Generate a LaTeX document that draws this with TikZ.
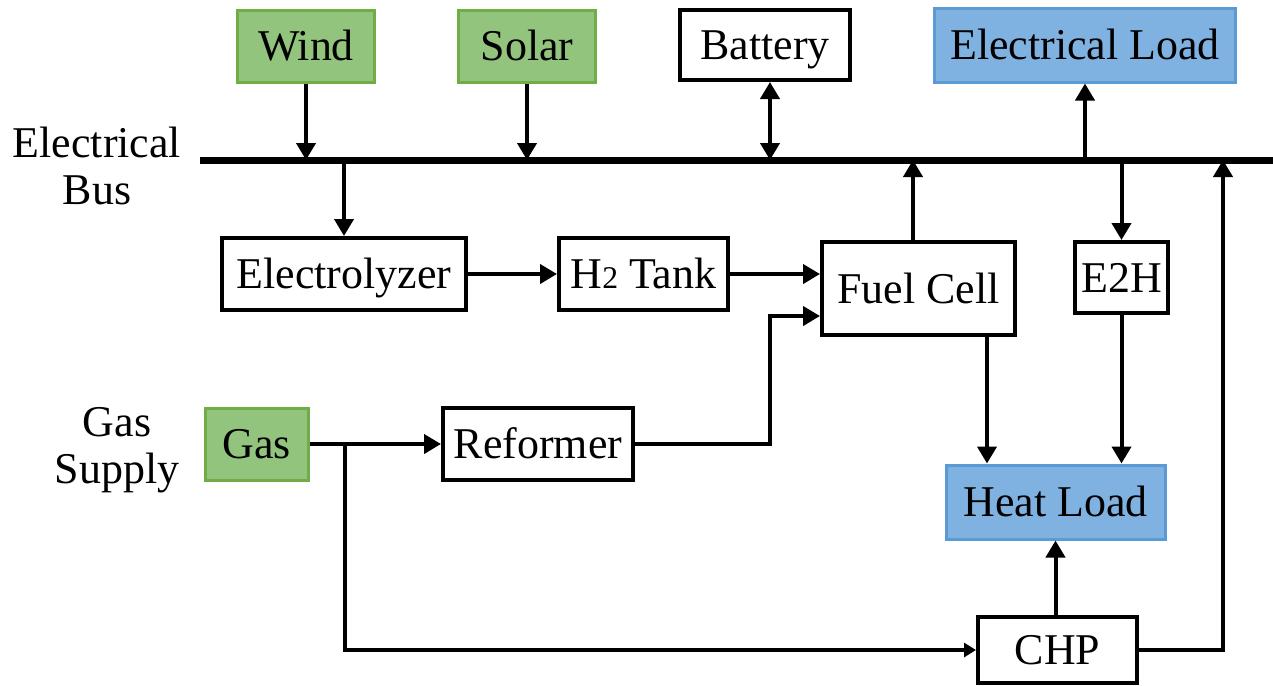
\documentclass[tikz,border=0pt]{standalone}
\usepackage{fontspec}
\setmainfont{Liberation Serif}
\usetikzlibrary{arrows.meta, positioning}
\definecolor{srcgreen}{HTML}{93C47D}
\definecolor{srcedge}{HTML}{70AD47}
\definecolor{loadblue}{HTML}{7FB2E0}
\definecolor{loadedge}{HTML}{5B9BD5}
\tikzset{
    unit/.style={rectangle, draw, line width=0.08cm, fill=white, minimum height=1.44cm, inner sep=0pt,
        text height=0.58cm, text depth=0pt, align=center, font=\fontsize{25}{30}\selectfont},
    source/.style={unit, fill=srcgreen, draw=srcedge, line width=0.06cm},
    demand/.style={unit, fill=loadblue, draw=loadedge, line width=0.06cm},
    arr/.style={-{Triangle[length=0.34cm, width=0.38cm]}, line width=0.08cm},
    arrs/.style={-{Triangle[length=0.24cm, width=0.28cm]}, line width=0.08cm},
    tag/.style={align=center, font=\fontsize{25}{27}\selectfont},
}

\begin{document}
\begin{tikzpicture}
\useasboundingbox (0,0) rectangle (25.46,-13.7);

% ── Electrical bus ──
\coordinate (busL) at (4.0,-3.2);
\coordinate (busR) at (25.46,-3.2);
\draw[line width=0.14cm] (busL) -- (busR);
\node[tag] (buslbl) at (1.94,-3.32) {Electrical\\Bus};

% ── Top row ──
\node[source, minimum width=2.74cm] (wind) at (6.12,-0.92) {Wind};
\node[source, minimum width=2.74cm] (solar) at (10.54,-0.92) {Solar};
\node[unit, minimum width=3.4cm, minimum height=1.4cm] (batt) at (15.3,-0.9) {Battery};
\node[demand, minimum width=6.02cm, minimum height=1.48cm] (eload) at (21.7,-0.9) {Electrical Load};

\draw[arr] (wind.south) -- (wind.south |- busL);
\draw[arr] (solar.south) -- (solar.south |- busL);
\draw[{Triangle[length=0.34cm, width=0.38cm]}-{Triangle[length=0.34cm, width=0.38cm]}, line width=0.08cm]
    ([xshift=0.1cm]batt.south) -- ([xshift=0.1cm]batt.south |- busL);
\draw[arr] (eload.south |- busR) -- (eload.south);

% ── Hydrogen chain ──
\node[unit, minimum width=4.88cm] (elec) at (6.88,-5.48) {Electrolyzer};
\node[unit, minimum width=3.38cm] (tank) at (12.87,-5.48) {H{\fontsize{18}{20}\selectfont 2} Tank};
\node[unit, minimum width=3.86cm, minimum height=1.86cm] (fc) at (18.37,-5.77) {Fuel Cell};
\node[unit, minimum width=1.86cm, minimum height=1.42cm] (e2h) at (22.43,-5.55) {E2H};

\draw[arr] (elec.north |- busL) -- (elec.north);
\draw[arr] (elec.east) -- (tank.west);
\draw[arr] (tank.east) -- (tank.east -| fc.west);
\draw[arr] ([xshift=-0.11cm]fc.north) -- ([xshift=-0.11cm]fc.north |- busL);
\draw[arr] (e2h.north |- busR) -- (e2h.north);

% ── Gas supply ──
\node[tag] (gaslbl) at (2.34,-9.0) {Gas\\Supply};
\node[source, minimum width=2.06cm] (gas) at (5.13,-8.88) {Gas};
\node[unit, minimum width=3.8cm] (ref) at (10.76,-8.88) {Reformer};
\coordinate (split) at (6.9,-8.88);

\draw[arr] (gas.east) -- (ref.west);
\draw[arr] (ref.east) -- ++(2.7,0) |- ([yshift=-0.55cm]fc.west);

% ── Heat side ──
\node[demand, minimum width=4.38cm, minimum height=1.48cm] (heat) at (21.11,-10.04) {Heat Load};
\node[unit, minimum width=3.18cm, minimum height=1.32cm] (chp) at (21.15,-13.0) {CHP};
\coordinate (chpbus) at (24.46,-3.2);

\draw[arr] ([xshift=1.37cm]fc.south) -- ([xshift=1.37cm]fc.south |- heat.north);
\draw[arr] (e2h.south) -- (e2h.south |- heat.north);
\draw[arr] (chp.north -| heat.south) -- (heat.south);
\draw[arrs] (split) |- (chp.west);
\draw[arr] (chp.east) -| (chpbus);

\end{tikzpicture}
\end{document}
